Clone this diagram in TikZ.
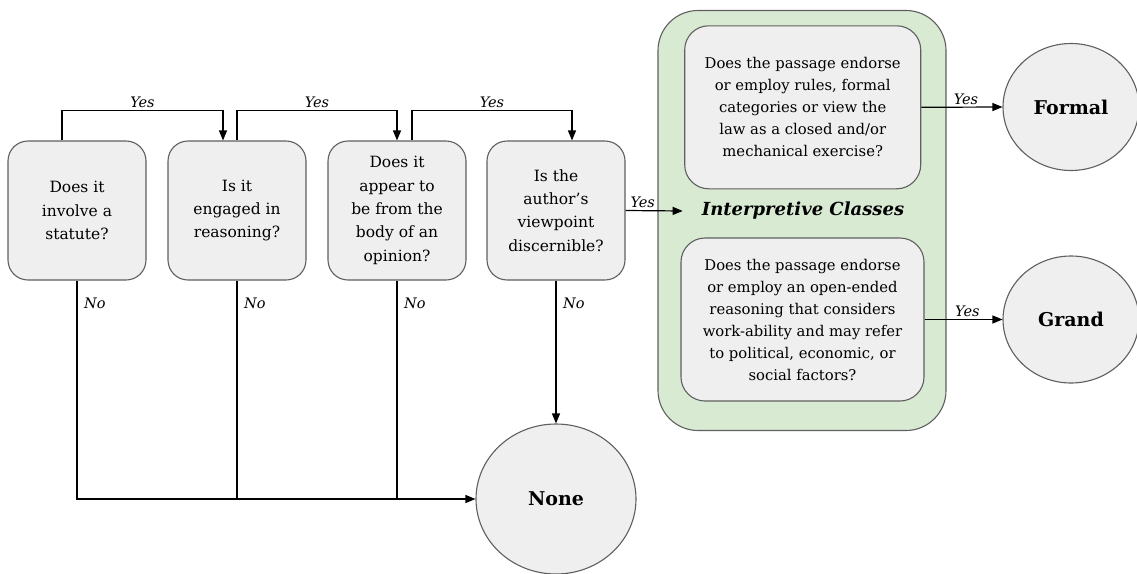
\documentclass[tikz,border=0pt]{standalone}
\usepackage{fontspec}
\setmainfont{DejaVu Serif}
\usetikzlibrary{arrows.meta,shapes.geometric}
\definecolor{boxfill}{HTML}{EFEFEF}
\definecolor{boxline}{HTML}{5F5F5F}
\definecolor{greenfill}{HTML}{D9EAD3}
\begin{document}
\begin{tikzpicture}[x=1pt,y=-1pt,
  qbox/.style={draw=boxline, line width=1.1pt, fill=boxfill, rounded corners=20pt,
    minimum width=138pt, minimum height=139pt, align=center, inner sep=2pt,
    font=\fontsize{15.5}{23.3}\selectfont},
  ibox/.style={draw=boxline, line width=1.1pt, fill=boxfill, rounded corners=24pt,
    minimum height=163pt, align=center, inner sep=2pt,
    font=\fontsize{14.8}{22}\selectfont},
  endnode/.style={draw=boxline, line width=1.1pt, fill=boxfill, ellipse, inner sep=0pt,
    font=\fontsize{19}{22}\selectfont\bfseries},
  lab/.style={font=\fontsize{14.5}{16}\selectfont\itshape, inner sep=2pt},
  arr/.style={line width=1.2pt, -{Triangle[length=10pt,width=8pt]}},
  ln/.style={line width=1.2pt}]
\useasboundingbox (0,0) rectangle (1137,573);

% question boxes
\node[qbox] (q1) at (77,210.5) {Does it\\involve a\\statute?};
\node[qbox] (q2) at (237,210.5) {Is it\\engaged in\\reasoning?};
\node[qbox] (q3) at (397,210.5) {Does it\\appear to\\be from the\\body of an\\opinion?};
\node[qbox] (q4) at (556,210.5) {Is the\\author’s\\viewpoint\\discernible?};

% interpretive classes container
\node[draw=boxline, line width=1.1pt, fill=greenfill, rounded corners=40pt,
  minimum width=288pt, minimum height=420pt] (grp) at (802,220.5) {};
\node[ibox, minimum width=236pt] (i1) at (802.7,107.3)
  {Does the passage endorse\\or employ rules, formal\\categories or view the\\law as a closed and/or\\mechanical exercise?};
\node[ibox, minimum width=243pt] (i2) at (802.5,319.5)
  {Does the passage endorse\\or employ an open-ended\\reasoning that considers\\work-ability and may refer\\to political, economic, or\\social factors?};
\node[font=\fontsize{18}{22}\selectfont\bfseries\itshape, inner xsep=19pt] (ic) at (803,211) {Interpretive Classes};

% end nodes
\node[endnode, minimum width=136pt, minimum height=127pt] (formal) at (1071,107) {Formal};
\node[endnode, minimum width=136pt, minimum height=127pt] (grand) at (1071,319.5) {Grand};
\node[endnode, minimum width=160pt, minimum height=150pt] (none) at (556,499) {None};

% yes connectors
\draw[arr] ([xshift=-15pt]q1.north) -- ++(0,-30) -| node[lab, pos=0.25, above] {Yes} ([xshift=-14pt]q2.north);
\draw[arr] (q2.north) -- ++(0,-30) -| node[lab, pos=0.25, above] {Yes} (q3.north);
\draw[arr] ([xshift=15pt]q3.north) -- ++(0,-30) -| node[lab, pos=0.25, above] {Yes} ([xshift=16pt]q4.north);
\draw[arr] (q4.east) -- node[lab, pos=0.3, above] {Yes} (ic.west);
\draw[arr] (i1.east) -- node[lab, pos=0.55, above] {Yes} (formal.west);
\draw[arr] (i2.east) -- node[lab, pos=0.55, above] {Yes} (grand.west);

% no connectors
\draw[arr] (q1.south) -- (q1.south |- none.west) -- (none.west);
\draw[ln] (q2.south) -- (q2.south |- none.west);
\draw[ln] (q3.south) -- (q3.south |- none.west);
\draw[arr] (q4.south) -- (none.north);
\node[lab, anchor=west] at ([xshift=5pt,yshift=-23pt]q1.south) {No};
\node[lab, anchor=west] at ([xshift=5pt,yshift=-23pt]q2.south) {No};
\node[lab, anchor=west] at ([xshift=5pt,yshift=-23pt]q3.south) {No};
\node[lab, anchor=west] at ([xshift=5pt,yshift=-23pt]q4.south) {No};
\end{tikzpicture}
\end{document}
